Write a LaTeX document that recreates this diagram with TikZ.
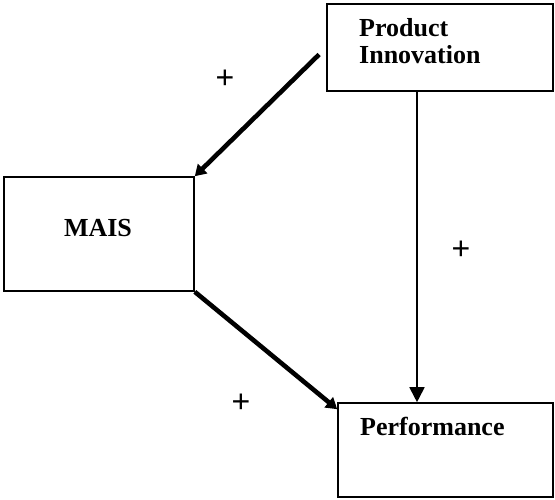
\documentclass[tikz,border=0pt]{standalone}
\usepackage{fontspec}
\setmainfont{Liberation Serif}
\newfontfamily\plusfont{Liberation Sans}
\usepackage{tikz}
\usetikzlibrary{arrows.meta,positioning,calc}
\tikzset{
  %% Construct boxes
  cbox/.style={draw=black, line width=1.6pt, fill=white, inner sep=0pt},
  ctext/.style={inner sep=0pt, font=\fontsize{26}{27}\selectfont\bfseries, align=left},
  %% Paths
  cpath/.style={line width=4.6pt, -{Triangle[length=11pt,width=13pt]}},
  cdirect/.style={line width=1.8pt, -{Triangle[length=15pt,width=15pt]}},
  %% Sign labels
  csign/.style={inner sep=0pt, font=\fontsize{32}{34}\selectfont\plusfont},
}
\begin{document}
\begin{tikzpicture}[x=1pt, y=-1pt]
\useasboundingbox (0,0) rectangle (555,499);

%% Boxes
\node[cbox, minimum width=226pt, minimum height=87pt]  (innov) at (440,47.5) {};
\node[cbox, minimum width=190pt, minimum height=114pt] (mais)  at (99,234)   {};
\node[cbox, minimum width=215pt, minimum height=94pt]  (perf)  at (445.5,450) {};

%% Box texts
\node[ctext, anchor=north west] (innovtxt) at (359,18)  {Product\\Innovation};
\node[ctext, anchor=base]       (maistxt)  at (98,236)  {MAIS};
\node[ctext, anchor=base west]  (perftxt)  at (360,435) {Performance};

%% Paths
\draw[cpath, shorten <=10pt] (innov.west) -- (mais.north east);
\draw[cdirect] ([xshift=-23pt]innov.south) -- ([xshift=-23pt]innov.south |- perf.north);
\draw[cpath] (mais.south east) -- ([yshift=-7pt]perf.north west);

%% Signs
\node[csign] (s1) at (225,79)  {+};
\node[csign] (s2) at (461,250) {+};
\node[csign] (s3) at (241,403) {+};

\end{tikzpicture}
\end{document}
